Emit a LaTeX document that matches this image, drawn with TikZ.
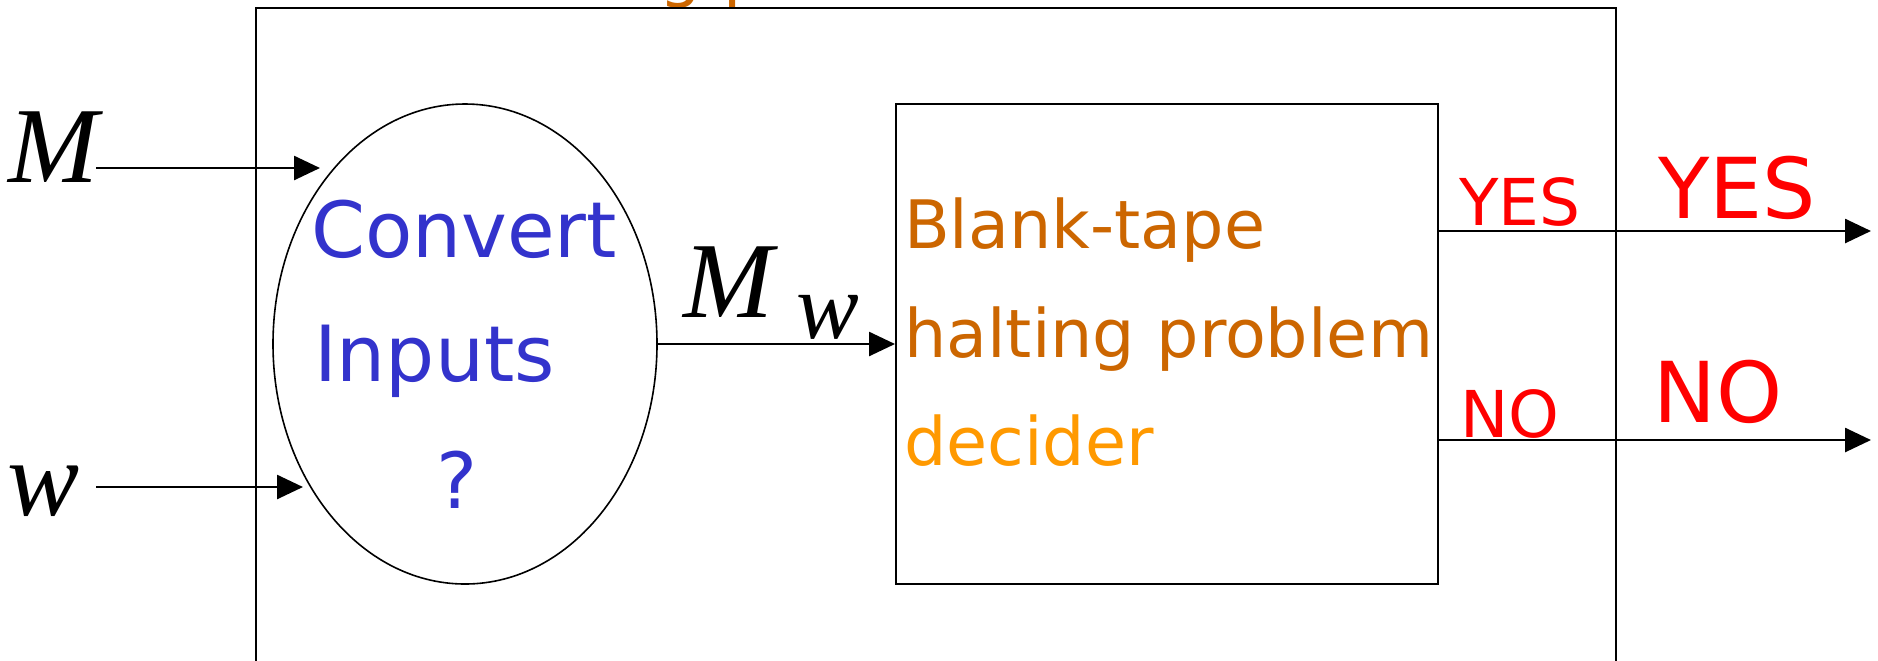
\documentclass[tikz,border=0pt]{standalone}
\usepackage{fontspec}
\setmainfont{DejaVu Sans}
\newfontfamily\tnr{Liberation Serif}
\usetikzlibrary{arrows.meta,shapes.geometric}
\definecolor{cblue}{RGB}{51,51,204}
\definecolor{cbrown}{RGB}{204,102,0}
\definecolor{corange}{RGB}{255,153,0}
\definecolor{cred}{RGB}{255,0,0}
\begin{document}
\begin{tikzpicture}[x=0.5pt,y=-0.5pt,
  lbl/.style={inner sep=0pt, outer sep=0pt},
  mathlbl/.style={lbl, font=\tnr\itshape\fontsize{54}{60}\selectfont},
  bluetxt/.style={lbl, text=cblue, font=\fontsize{38.7}{44}\selectfont},
  boxtxt/.style={lbl, font=\fontsize{33.4}{40}\selectfont},
  smallred/.style={lbl, text=cred, font=\fontsize{32.3}{38}\selectfont},
  bigred/.style={lbl, text=cred, font=\fontsize{42}{48}\selectfont},
  arr/.style={line width=1.3pt, -{Triangle[length=13pt,width=12pt]}},
  frame/.style={line width=1pt},
  ]
\useasboundingbox (0,0) rectangle (1878,660);
\clip (0,0) rectangle (1878,660);
\fill[white] (0,0) rectangle (1878,660);

% clipped title at the top
\node[boxtxt, text=cbrown, anchor=base west] (title) at (471,-6) {halting problem};

% outer machine frame (open at the bottom)
\draw[frame] (256,720) -- (256,8) -- (1616,8) -- (1616,720);

% converter ellipse
\node[ellipse, draw, line width=0.8pt, minimum width=192pt, minimum height=240pt, inner sep=0pt] (conv) at (465,344) {};

% decider box
\node[rectangle, draw, line width=1pt, minimum width=271pt, minimum height=240pt, inner sep=0pt] (dec) at (1167,344) {};

% inputs
\node[mathlbl, anchor=base west] (Min) at (9,182) {M};
\node[mathlbl, anchor=base west] (win) at (8,515) {w};
\coordinate (mstart) at (96,168);
\coordinate (mend) at (320,168);
\coordinate (wstart) at (96,487);
\coordinate (wend) at (303,487);
\draw[arr] (mstart) -- (mend);
\draw[arr] (wstart) -- (wend);

% converter text
\node[bluetxt, anchor=base west] (t1) at (311,257) {Convert};
\node[bluetxt, anchor=base west] (t2) at (314,381) {Inputs};
\node[bluetxt, anchor=base] (t3) at (457,508) {?};

% M_w
\draw[arr] (conv.east) -- (dec.west);
\node[mathlbl, anchor=base west] (Mw) at (683,317) {M};
\node[lbl, font=\tnr\itshape\fontsize{47}{52}\selectfont, anchor=base west] (wsub) at (796,338) {w};

% decider text
\node[boxtxt, text=cbrown, anchor=base west] (d1) at (904,248) {Blank-tape};
\node[boxtxt, text=cbrown, anchor=base west] (d2) at (904,357) {halting problem};
\node[boxtxt, text=corange, anchor=base west] (d3) at (904,465) {decider};

% outputs
\coordinate (yesA) at (dec.east |- 0,231);
\coordinate (yesB) at (1871,231);
\coordinate (noA) at (dec.east |- 0,440);
\coordinate (noB) at (1871,440);
\draw[arr] (yesA) -- (yesB);
\draw[arr] (noA) -- (noB);
\node[smallred, anchor=base] (ys) at (1520,225) {YES};
\node[smallred, anchor=base] (ns) at (1510,437) {NO};
\node[bigred, anchor=base] (yb) at (1737,218) {YES};
\node[bigred, anchor=base] (nb) at (1718,422) {NO};
\end{tikzpicture}
\end{document}
